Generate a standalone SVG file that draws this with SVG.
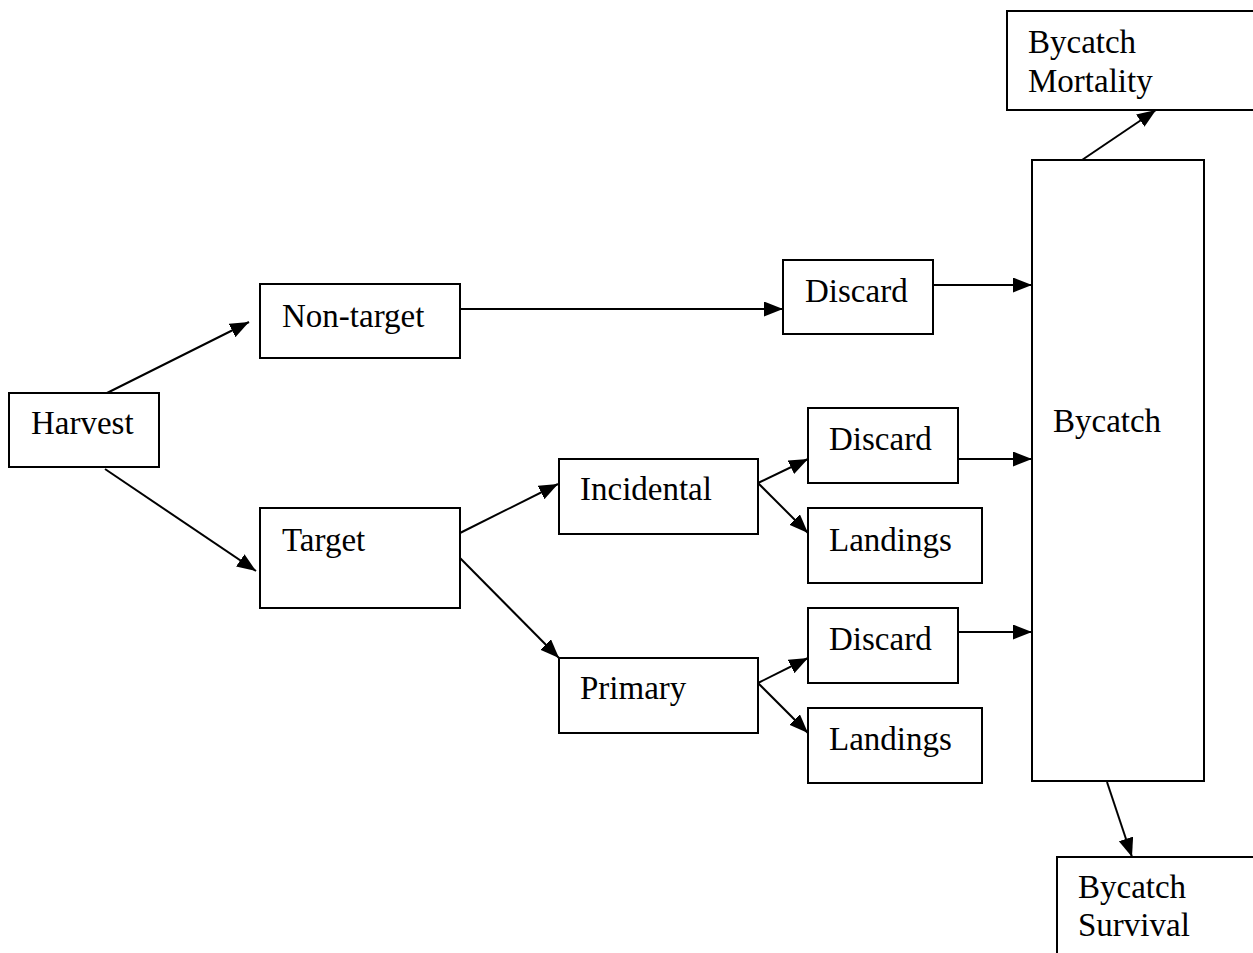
<svg xmlns="http://www.w3.org/2000/svg" width="1253" height="953" viewBox="0 0 1253 953">
<style>
.box{fill:#fff;stroke:#000;stroke-width:2}
.t{font-family:"Liberation Serif","Times New Roman",serif;font-size:33px;fill:#000}
.c{stroke:#000;stroke-width:2;fill:none;marker-end:url(#ah)}
</style>
<defs>
<marker id="ah" markerUnits="userSpaceOnUse" markerWidth="22" markerHeight="18" refX="19" refY="7.5" orient="auto">
<path d="M0,0 L19,7.5 L0,15 Z" fill="#000"/>
</marker>
</defs>
<rect width="1253" height="953" fill="#fff"/>
<g id="connectors">
<line class="c" x1="107" y1="393" x2="249" y2="322"/>
<line class="c" x1="105" y1="469" x2="256" y2="571"/>
<line class="c" x1="460" y1="309" x2="783" y2="309"/>
<line class="c" x1="933" y1="285" x2="1032" y2="285"/>
<line class="c" x1="460" y1="533" x2="558" y2="484"/>
<line class="c" x1="460" y1="558" x2="559" y2="658"/>
<line class="c" x1="758" y1="483" x2="808" y2="459"/>
<line class="c" x1="758" y1="483" x2="808" y2="533"/>
<line class="c" x1="958" y1="459" x2="1032" y2="459"/>
<line class="c" x1="758" y1="683" x2="808" y2="658"/>
<line class="c" x1="758" y1="683" x2="808" y2="733"/>
<line class="c" x1="958" y1="632" x2="1032" y2="632"/>
<line class="c" x1="1082" y1="160" x2="1156" y2="110"/>
<line class="c" x1="1107" y1="782" x2="1132" y2="857"/>
</g>
<g id="harvest"><rect class="box" x="9" y="393" width="150" height="74"/><text class="t" x="31" y="434">Harvest</text></g>
<g id="nontarget"><rect class="box" x="260" y="284" width="200" height="74"/><text class="t" x="282" y="327">Non-target</text></g>
<g id="target"><rect class="box" x="260" y="508" width="200" height="100"/><text class="t" x="282" y="551">Target</text></g>
<g id="discard1"><rect class="box" x="783" y="260" width="150" height="74"/><text class="t" x="805" y="302">Discard</text></g>
<g id="incidental"><rect class="box" x="559" y="459" width="199" height="75"/><text class="t" x="580" y="500">Incidental</text></g>
<g id="primary"><rect class="box" x="559" y="658" width="199" height="75"/><text class="t" x="580" y="699">Primary</text></g>
<g id="discard2"><rect class="box" x="808" y="408" width="150" height="75"/><text class="t" x="829" y="450">Discard</text></g>
<g id="landings1"><rect class="box" x="808" y="508" width="174" height="75"/><text class="t" x="829" y="551">Landings</text></g>
<g id="discard3"><rect class="box" x="808" y="608" width="150" height="75"/><text class="t" x="829" y="650">Discard</text></g>
<g id="landings2"><rect class="box" x="808" y="708" width="174" height="75"/><text class="t" x="829" y="750">Landings</text></g>
<g id="bycatch"><rect class="box" x="1032" y="160" width="172" height="621"/><text class="t" x="1053" y="432">Bycatch</text></g>
<g id="mortality"><rect class="box" x="1007" y="11" width="260" height="99"/><text class="t" x="1028" y="53">Bycatch</text><text class="t" x="1028" y="92">Mortality</text></g>
<g id="survival"><rect class="box" x="1057" y="857" width="220" height="120"/><text class="t" x="1078" y="898">Bycatch</text><text class="t" x="1078" y="936">Survival</text></g>
</svg>
